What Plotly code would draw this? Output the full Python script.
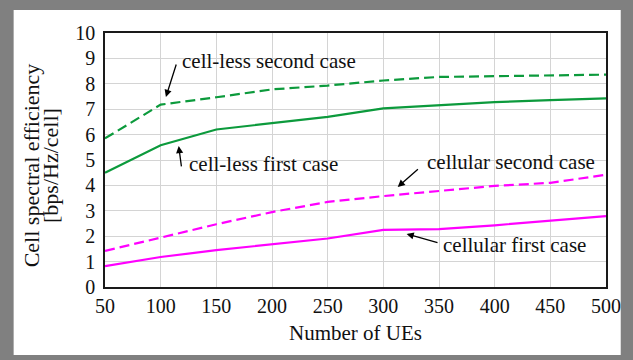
import plotly.graph_objects as go

# Number of UEs on the horizontal axis
num_ues = [50, 100, 150, 200, 250, 300, 350, 400, 450, 500]

# Cell spectral efficiency [bps/Hz/cell] for each scheme
cellless_second = [5.85, 7.18, 7.47, 7.78, 7.93, 8.13, 8.27, 8.30, 8.33, 8.36]
cellless_first = [4.50, 5.58, 6.20, 6.45, 6.70, 7.03, 7.16, 7.28, 7.36, 7.43]
cellular_second = [1.42, 1.95, 2.47, 2.95, 3.35, 3.58, 3.79, 3.98, 4.10, 4.42]
cellular_first = [0.82, 1.18, 1.45, 1.68, 1.91, 2.25, 2.28, 2.43, 2.60, 2.79]

x_ticks = [50, 100, 150, 200, 250, 300, 350, 400, 450, 500]
y_ticks = [0, 1, 2, 3, 4, 5, 6, 7, 8, 9, 10]

GREEN = "#0c9a3c"
MAGENTA = "#ff00ff"
FONT = "Liberation Serif, Times New Roman, serif"
DASH = "10px,5px"

fig = go.Figure()
series = [
    (cellless_second, GREEN, DASH),
    (cellless_first, GREEN, "solid"),
    (cellular_second, MAGENTA, DASH),
    (cellular_first, MAGENTA, "solid"),
]
for ys, color, dash in series:
    fig.add_trace(go.Scatter(
        x=num_ues, y=ys, mode="lines",
        line=dict(color=color, width=2.2, dash=dash),
        showlegend=False, hoverinfo="skip",
    ))

# Curve labels and their pointer arrows (tail -> head, data coords)
labels = [
    ("cell-less second case", 197.5, 8.90),
    ("cell-less first case", 192.5, 4.84),
    ("cellular second case", 414.5, 4.92),
    ("cellular first case", 418.0, 1.65),
]
arrows = [
    ((114.4, 8.82), (104.7, 7.48)),
    ((118.8, 4.69), (116.2, 5.55)),
    ((332.4, 4.69), (312.9, 3.94)),
    ((350.0, 1.73), (320.9, 2.09)),
]

annotations = []
for text, lx, ly in labels:
    annotations.append(dict(
        x=lx, y=ly, xref="x", yref="y", text=text, showarrow=False,
        xanchor="center", yanchor="middle",
        font=dict(family=FONT, size=21, color="#111111"),
    ))
for (tx, ty), (hx, hy) in arrows:
    annotations.append(dict(
        x=hx, y=hy, ax=tx, ay=ty, xref="x", yref="y", axref="x", ayref="y",
        text="", showarrow=True, arrowhead=2, arrowsize=1.1,
        arrowwidth=1.3, arrowcolor="#000000",
    ))

# Axis titles
annotations.append(dict(
    x=(30 - 105) / 510, y=0.5 - 5 / 254, xref="paper", yref="paper",
    text="Cell spectral efficiency", textangle=-90, showarrow=False,
    xanchor="center", yanchor="middle",
    font=dict(family=FONT, size=22, color="#111111"),
))
annotations.append(dict(
    x=(49 - 105) / 510, y=0.5 - 5 / 254, xref="paper", yref="paper",
    text="[bps/Hz/cell]", textangle=-90, showarrow=False,
    xanchor="center", yanchor="middle",
    font=dict(family=FONT, size=22, color="#111111"),
))
annotations.append(dict(
    x=0.5, y=(287 - 333) / 254, xref="paper", yref="paper",
    text="Number of UEs", showarrow=False,
    xanchor="center", yanchor="middle",
    font=dict(family=FONT, size=21, color="#111111"),
))

# Grey outer frame with a white card behind the chart
shapes = [dict(
    type="rect", xref="paper", yref="paper", layer="below",
    x0=(12 - 105) / 510, x1=(630 - 105) / 510,
    y0=(287 - 355) / 254, y1=(287 - 10) / 254,
    fillcolor="white", line=dict(width=0),
)]

axis_common = dict(
    showgrid=True, gridcolor="#d4d4d4", gridwidth=1,
    showline=True, linecolor="#1a1a1a", linewidth=1.6, mirror=True,
    ticks="", zeroline=False,
    tickfont=dict(family=FONT, size=20, color="#111111"),
)

fig.update_layout(
    width=633, height=360,
    margin=dict(l=105, r=18, t=33, b=73),
    paper_bgcolor="#808080", plot_bgcolor="white",
    xaxis=dict(range=[50, 500], tickvals=x_ticks, **axis_common),
    yaxis=dict(range=[0, 10], tickvals=y_ticks, ticklabelstandoff=4, **axis_common),
    annotations=annotations, shapes=shapes,
)

fig.write_html("out.html")
